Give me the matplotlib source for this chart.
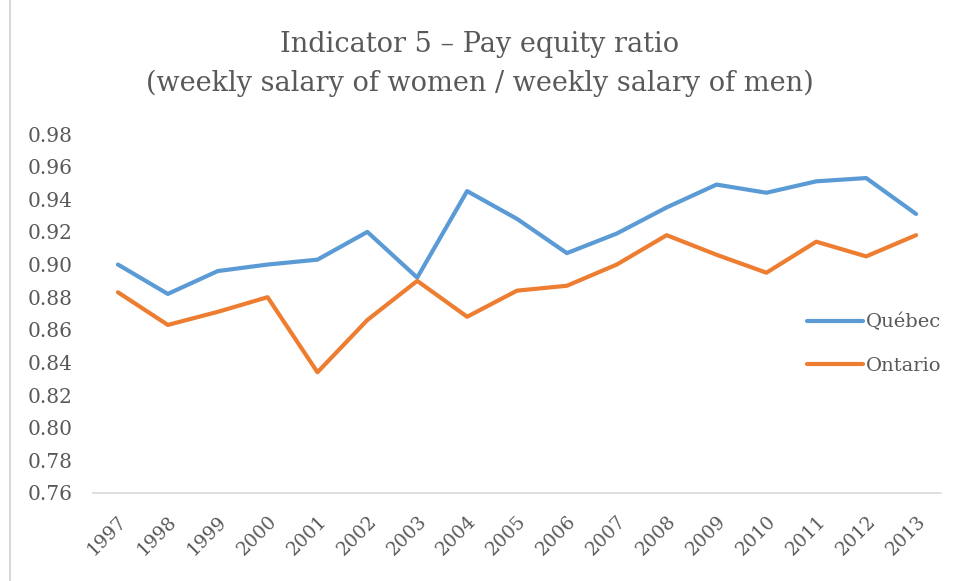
import matplotlib
matplotlib.use("Agg")
import matplotlib.pyplot as plt
from matplotlib.lines import Line2D

years = [str(y) for y in range(1997, 2014)]
quebec = [0.900, 0.882, 0.896, 0.900, 0.903, 0.920, 0.892, 0.945, 0.928, 0.907,
          0.919, 0.935, 0.949, 0.944, 0.951, 0.953, 0.931]
ontario = [0.883, 0.863, 0.871, 0.880, 0.834, 0.866, 0.890, 0.868, 0.884, 0.887,
           0.900, 0.918, 0.906, 0.895, 0.914, 0.905, 0.918]
yticks = [0.76, 0.78, 0.80, 0.82, 0.84, 0.86, 0.88, 0.90, 0.92, 0.94, 0.96, 0.98]

plt.rcParams['font.family'] = ['DejaVu Serif']
txt = '#595959'

fig = plt.figure(figsize=(9.6, 5.81), dpi=100)
ax = fig.add_axes([93/960, 1 - 493/581, (941 - 93)/960, (493 - 134)/581])

x = list(range(len(years)))
ax.plot(x, quebec, color='#5B9BD5', linewidth=3, label='Québec', solid_capstyle='round')
ax.plot(x, ontario, color='#ED7D31', linewidth=3, label='Ontario', solid_capstyle='round')

ax.set_xlim(-0.5, len(years) - 0.5)
ax.set_ylim(0.76, 0.98)
ax.set_yticks(yticks)
ax.set_yticklabels([f"{v:.2f}" for v in yticks], color=txt, fontsize=14.5)
ax.set_xticks(x)
ax.set_xticklabels(years, rotation=45, color=txt, fontsize=13.5, ha='right',
                   rotation_mode='anchor')
ax.tick_params(axis='x', length=0, pad=14)
ax.tick_params(axis='y', length=0, pad=15)

for s in ['top', 'right', 'left']:
    ax.spines[s].set_visible(False)
ax.spines['bottom'].set_color('#D9D9D9')
ax.spines['bottom'].set_linewidth(1.2)

fig.text(0.5, 1 - 45/581, "Indicator 5 \u2013 Pay equity ratio", ha='center', va='center',
         fontsize=19.5, color=txt)
fig.text(0.5, 1 - 83/581, "(weekly salary of women / weekly salary of men)", ha='center',
         va='center', fontsize=19.5, color=txt)

# chart border at the left edge
fig.add_artist(Line2D([10/960, 10/960], [0, 1], color='#D9D9D9', linewidth=1.5))

leg = fig.legend(loc='center left', bbox_to_anchor=(797/960, 1 - 344/581), frameon=False,
                 fontsize=14, handlelength=2.9, handletextpad=0.15, labelspacing=1.3,
                 borderpad=0)
for t in leg.get_texts():
    t.set_color(txt)

fig.savefig("out.png", dpi=100)
